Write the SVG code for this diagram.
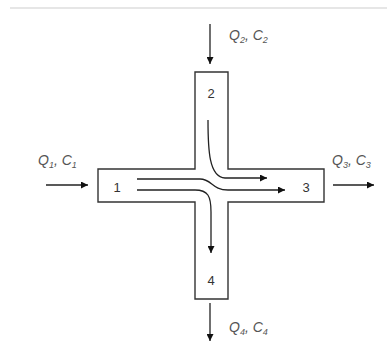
<svg xmlns="http://www.w3.org/2000/svg" width="387" height="342" viewBox="0 0 387 342">
<defs>
<marker id="ah" viewBox="0 0 10 10" refX="10" refY="5" markerWidth="8" markerHeight="7" markerUnits="userSpaceOnUse" orient="auto">
<path d="M0,0 L10,5 L0,10 Z" fill="#111"/>
</marker>
<style>
.box{fill:#fff;stroke:#333;stroke-width:1.4}
.ln{fill:none;stroke:#222;stroke-width:1.3;marker-end:url(#ah)}
.num{font-family:"Liberation Sans",Arial,sans-serif;font-size:13px;fill:#333;text-anchor:middle}
.lab{font-family:"Liberation Sans",Arial,sans-serif;font-size:14px;font-style:italic;fill:#555}
.sub{font-size:9px}
</style>
</defs>
<rect width="387" height="342" fill="#fff"/>
<line x1="10" y1="8" x2="387" y2="8" stroke="#e6e6e6" stroke-width="2"/>
<g id="cross">
<path class="box" d="M195,72 H228 V169 H324 V202 H228 V299 H195 V202 H98 V169 H195 Z"/>
<text class="num" x="211" y="98">2</text>
<text class="num" x="117" y="192">1</text>
<text class="num" x="306" y="192">3</text>
<text class="num" x="211" y="285">4</text>
</g>
<g id="connectors">
<line class="ln" x1="210" y1="24" x2="210" y2="64"/>
<line class="ln" x1="46" y1="185" x2="88" y2="185"/>
<line class="ln" x1="333" y1="185" x2="374" y2="185"/>
<line class="ln" x1="210" y1="303" x2="210" y2="341"/>
<path class="ln" d="M208,120 C208,150 209,177 225,178 L267,178"/>
<path class="ln" d="M137,179 L200,179 C212,179 212,190 228,190 L285,190"/>
<path class="ln" d="M137,190 L195,190 C208,190 211,196 211,212 L211,253"/>
</g>
<g id="labels">
<text class="lab" x="229" y="40">Q<tspan class="sub" dy="3">2</tspan><tspan dy="-3">, C</tspan><tspan class="sub" dy="3">2</tspan></text>
<text class="lab" x="38" y="165">Q<tspan class="sub" dy="3">1</tspan><tspan dy="-3">, C</tspan><tspan class="sub" dy="3">1</tspan></text>
<text class="lab" x="332" y="165">Q<tspan class="sub" dy="3">3</tspan><tspan dy="-3">, C</tspan><tspan class="sub" dy="3">3</tspan></text>
<text class="lab" x="229" y="332">Q<tspan class="sub" dy="3">4</tspan><tspan dy="-3">, C</tspan><tspan class="sub" dy="3">4</tspan></text>
</g>
</svg>
